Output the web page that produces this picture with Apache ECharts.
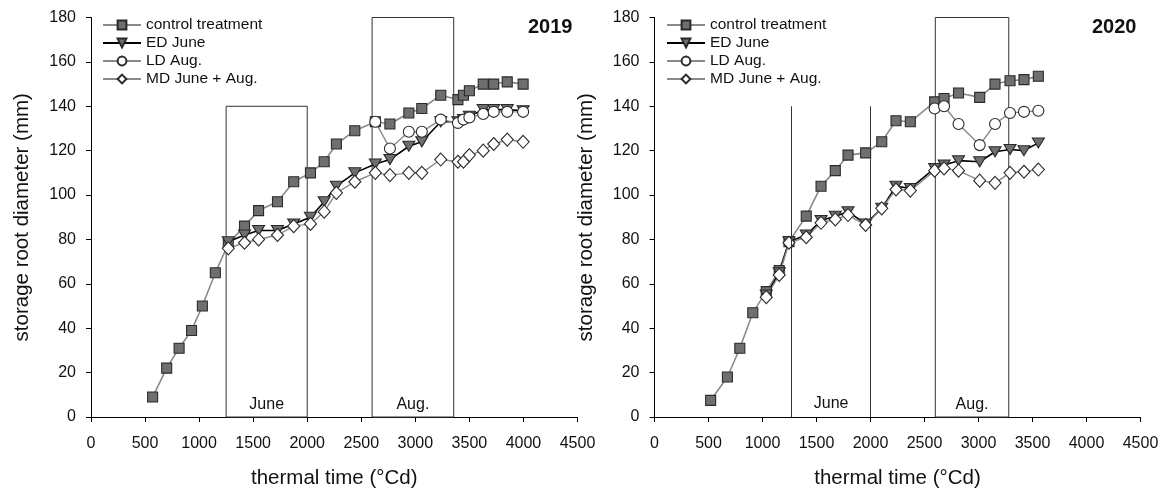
<!DOCTYPE html>
<html>
<head>
<meta charset="utf-8">
<script src="https://cdn.jsdelivr.net/npm/echarts@6/dist/echarts.min.js"></script>
<style>
  html, body { margin: 0; padding: 0; background: #fff; }
  #chart { width: 1169px; height: 491px; }
</style>
</head>
<body>
<div id="chart"></div>
<script>
// Storage root diameter vs. thermal time, two seasons

const seriesNames = ['control treatment', 'ED June', 'LD Aug.', 'MD June + Aug.'];
const yearLabels = ['2019', '2020'];
const yTicks = [0, 180, 20];      // min, max, step
const xTicks = [0, 4500, 500];

// 2019
const ctrlX19 = [570, 700, 815, 930, 1030, 1150, 1270, 1420, 1550, 1725, 1875, 2030, 2157, 2270, 2440, 2630, 2765, 2940, 3060, 3235, 3394, 3445, 3500, 3628, 3725, 3850, 3997];
const ctrlY19 = [9, 22, 31, 39, 50, 65, 78, 86, 93, 97, 106, 110, 115, 123, 129, 133, 132, 137, 139, 145, 143, 145, 147, 150, 150, 151, 150];
const trtX19 = [1270, 1420, 1550, 1725, 1875, 2030, 2157, 2270, 2440, 2630, 2765, 2940, 3060, 3235, 3394, 3445, 3500, 3628, 3725, 3850, 3997];
const edY19 = [79, 82, 84, 84, 87, 90, 97, 104, 110, 114, 116, 122, 124, 133, 133, 134, 135.5, 138.5, 138.5, 138.5, 138];
const mdY19 = [76, 78.5, 80, 82, 86, 87, 92.5, 101, 106, 110, 109, 110, 110, 116, 115, 115, 118, 120, 123, 125, 124];
const ldX19 = [2630, 2765, 2940, 3060, 3235, 3394, 3445, 3500, 3628, 3725, 3850, 3997];
const ldY19 = [133, 121, 128.5, 128.5, 134, 132.5, 134, 135, 136.5, 137.5, 137.5, 137.5];

// 2020
const ctrlX20 = [520, 675, 790, 910, 1035, 1155, 1245, 1405, 1542, 1674, 1792, 1955, 2104, 2236, 2369, 2594, 2681, 2815, 3011, 3153, 3292, 3421, 3554];
const ctrlY20 = [7.5, 18, 31, 47, 56.5, 66, 79, 90.5, 104, 111, 118, 119, 124, 133.5, 133, 142, 143.5, 146, 144, 150, 151.5, 152, 153.5];
const trtX20 = [1035, 1155, 1245, 1405, 1542, 1674, 1792, 1955, 2104, 2236, 2369, 2594, 2681, 2815, 3011, 3153, 3292, 3421, 3554];
const edY20 = [55, 65, 79, 82, 88.5, 90.5, 92.5, 87, 94, 104, 103, 112, 113.5, 115.5, 115, 119.5, 120.5, 120, 123.5];
const mdY20 = [54, 64, 78.5, 81, 87.5, 89, 91, 86.5, 94, 102.5, 102, 111, 112, 111, 106.5, 105.5, 110, 110.5, 111.5];
const ldX20 = [2594, 2681, 2815, 3011, 3153, 3292, 3421, 3554];
const ldY20 = [139, 140, 132, 122.5, 132, 137, 137.5, 138];

// Stress periods: [start, end, top] in axis units
const june19 = [1250, 2000, 140];
const aug19 = [2600, 3355, 180];
const june20 = [1270, 2000, 140];
const aug20 = [2600, 3280, 180];

const zip = (xs, ys) => xs.map((x, i) => [x, ys[i]]);

const FONT = 'Liberation Sans, Arial, sans-serif';
const INK = '#111';
const GRAY_LINE = '#8a8a8a';
const FILL = '#6f6f6f';
const EDGE = '#2a2a2a';

function axisBase(extra) {
  return Object.assign({
    axisLine: { show: true, onZero: false, lineStyle: { color: '#000', width: 1 } },
    axisTick: { show: true, inside: false, length: 5, lineStyle: { color: '#000' } },
    splitLine: { show: false },
    nameTextStyle: { color: INK, fontSize: 20.5, fontFamily: FONT }
  }, extra);
}

const boxStyle = { color: 'rgba(0,0,0,0)', borderColor: '#333', borderWidth: 1 };
const boxLabel = { show: true, position: 'insideBottom', distance: 5, color: INK, fontSize: 16, fontFamily: FONT };

function periodBox(p, name) {
  return [{ name: name, xAxis: p[0], yAxis: 0 }, { xAxis: p[1], yAxis: p[2] }];
}

function makeSeries(k, cx, cy, ex, ey, lx, ly, mx, my, juneClosed, june, aug) {
  const areas = [periodBox(aug, 'Aug.')];
  if (juneClosed) areas.unshift(periodBox(june, 'June'));
  const ctrl = {
    name: seriesNames[0], type: 'line', xAxisIndex: k, yAxisIndex: k,
    data: zip(cx, cy),
    symbol: 'rect', symbolSize: 10,
    lineStyle: { color: GRAY_LINE, width: 1.6 },
    itemStyle: { color: FILL, borderColor: EDGE, borderWidth: 1.1 },
    markArea: {
      silent: true,
      itemStyle: boxStyle,
      label: boxLabel,
      data: areas
    }
  };
  if (!juneClosed) {
    // June window drawn as two vertical lines only
    ctrl.markArea.data.push([
      { name: 'June', xAxis: june[0], yAxis: 0, itemStyle: { borderWidth: 0 } },
      { xAxis: june[1], yAxis: june[2] }
    ]);
    ctrl.markLine = {
      silent: true, symbol: 'none',
      label: { show: false },
      lineStyle: { color: '#333', width: 1, type: 'solid' },
      data: [
        [{ coord: [june[0], 0] }, { coord: [june[0], june[2]] }],
        [{ coord: [june[1], 0] }, { coord: [june[1], june[2]] }]
      ]
    };
  }
  return [
    ctrl,
    {
      name: seriesNames[1], type: 'line', xAxisIndex: k, yAxisIndex: k,
      data: zip(ex, ey),
      symbol: 'triangle', symbolRotate: 180, symbolSize: [12, 10],
      lineStyle: { color: '#000', width: 1.6 },
      itemStyle: { color: FILL, borderColor: EDGE, borderWidth: 1.1 }
    },
    {
      name: seriesNames[2], type: 'line', xAxisIndex: k, yAxisIndex: k,
      data: zip(lx, ly),
      symbol: 'circle', symbolSize: 11,
      lineStyle: { color: GRAY_LINE, width: 1.4 },
      itemStyle: { color: '#fff', borderColor: EDGE, borderWidth: 1.1 }
    },
    {
      name: seriesNames[3], type: 'line', xAxisIndex: k, yAxisIndex: k,
      data: zip(mx, my),
      symbol: 'diamond', symbolSize: [12, 13],
      lineStyle: { color: GRAY_LINE, width: 1.4 },
      itemStyle: { color: '#fff', borderColor: EDGE, borderWidth: 1.1 }
    }
  ];
}

function legendAt(left) {
  return {
    orient: 'vertical', left: left, top: 17,
    itemWidth: 38, itemHeight: 11, itemGap: 2,
    padding: 0, selectedMode: false,
    textStyle: { color: INK, fontSize: 15.5, fontFamily: FONT, lineHeight: 14, height: 14 },
    data: seriesNames
  };
}

const chart = echarts.init(document.getElementById('chart'), null, { renderer: 'canvas' });

const option = {
  backgroundColor: '#fff',
  animation: false,
  textStyle: { fontFamily: FONT },
  title: [
    { text: yearLabels[0], left: 528, top: 17, padding: 0, textStyle: { fontSize: 20, fontWeight: 'bold', color: INK, fontFamily: FONT } },
    { text: yearLabels[1], left: 1092, top: 17, padding: 0, textStyle: { fontSize: 20, fontWeight: 'bold', color: INK, fontFamily: FONT } }
  ],
  legend: [legendAt(102), legendAt(666)],
  grid: [
    { left: 91, top: 17.5, width: 486.5, height: 399.5, containLabel: false, outerBoundsMode: 'none' },
    { left: 654.5, top: 17.5, width: 486, height: 399.5, containLabel: false, outerBoundsMode: 'none' }
  ],
  xAxis: [0, 1].map(k => axisBase({
    type: 'value', gridIndex: k,
    min: xTicks[0], max: xTicks[1], interval: xTicks[2],
    name: 'thermal time (°Cd)', nameLocation: 'middle', nameGap: 51,
    axisLabel: { color: INK, fontSize: 16, fontFamily: FONT, margin: 19, formatter: v => String(v) }
  })),
  yAxis: [0, 1].map(k => axisBase({
    type: 'value', gridIndex: k,
    min: yTicks[0], max: yTicks[1], interval: yTicks[2],
    name: 'storage root diameter (mm)', nameLocation: 'middle', nameGap: 58,
    axisLabel: { color: INK, fontSize: 16, fontFamily: FONT, margin: 15, formatter: v => String(v) }
  })),
  series: [].concat(
    makeSeries(0, ctrlX19, ctrlY19, trtX19, edY19, ldX19, ldY19, trtX19, mdY19, true, june19, aug19),
    makeSeries(1, ctrlX20, ctrlY20, trtX20, edY20, ldX20, ldY20, trtX20, mdY20, false, june20, aug20)
  )
};

chart.setOption(option);
</script>
</body>
</html>
